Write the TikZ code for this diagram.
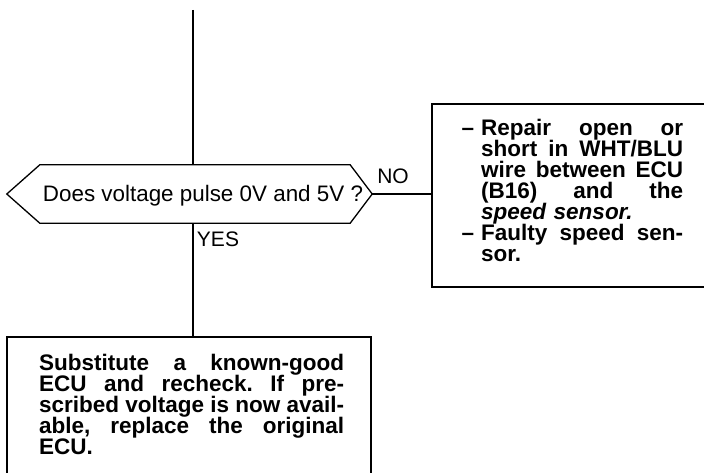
\documentclass[tikz,border=0pt]{standalone}
\usepackage{fontspec}
\setmainfont{Liberation Sans}
\newcommand{\jr}[1]{\leavevmode\hbox to 202pt{\spaceskip=0pt\xspaceskip=0pt\frenchspacing #1}}
\newcommand{\jb}[1]{\leavevmode\hbox to 305pt{\spaceskip=0pt\xspaceskip=0pt\frenchspacing #1}}
\newcommand{\dashmark}{\leavevmode\llap{–\hspace{7pt}}}
\newcommand{\boxfont}{\bfseries\fontsize{22.5}{21}\selectfont}
\newcommand{\tightlines}{\lineskiplimit=-100pt\relax\lineskip=0pt\relax}
\begin{document}
\begin{tikzpicture}[x=1pt,y=-1pt,
  conn/.style={line width=1.3pt},
  box/.style={draw, line width=1.3pt, inner sep=0pt},
  boxtext/.style={inner sep=0pt, anchor=base west, align=left, text width=#1,
    font=\boxfont, execute at begin node=\tightlines},
  lbl/.style={inner sep=0pt, font=\fontsize{21}{22}\selectfont}]
\path[use as bounding box, fill=white] (0,0) rectangle (704,473);

% decision (hexagon)
\node[inner sep=0pt, minimum width=365pt, minimum height=58pt] (q) at (189.5,194) {};
\draw[conn, line join=miter] (q.west) -- ([xshift=33pt]q.north west) -- ([xshift=-22pt]q.north east)
  -- (q.east) -- ([xshift=-22pt]q.south east) -- ([xshift=33pt]q.south west) -- cycle;
\node[inner sep=0pt, anchor=base, font=\fontsize{22.4}{24}\selectfont] (qt) at (203,202) {Does voltage pulse 0V and 5V ?};

% boxes
\node[box, minimum width=280pt, minimum height=183pt] (nb) at (572,195.5) {};
\node[box, minimum width=364pt, minimum height=150pt] (yb) at (189,412) {};

% texts in boxes
\node[boxtext=210pt] (nt) at (481,136) {%
\dashmark\jr{Repair open or}\\
\jr{short in WHT/BLU}\\
\jr{wire between ECU}\\
\jr{(B16) and the}\\
\textit{speed sensor.}\\
\dashmark\jr{Faulty speed sen-}\\
sor.};
\node[boxtext=312pt] (yt) at (39,370) {%
\jb{Substitute a known-good}\\
\jb{ECU and recheck. If pre-}\\
\jb{scribed voltage is now avail-}\\
\jb{able, replace the original}\\
ECU.};

% labels
\node[lbl] (no) at (393,176) {NO};
\node[lbl] (yes) at (218,239) {YES};

% connectors
\coordinate (top) at (193,10);
\draw[conn] (top) -- (top |- q.north);
\draw[conn] (top |- q.south) -- (top |- yb.north);
\draw[conn] (q.east) -- (q.east -| nb.west);
\end{tikzpicture}
\end{document}
